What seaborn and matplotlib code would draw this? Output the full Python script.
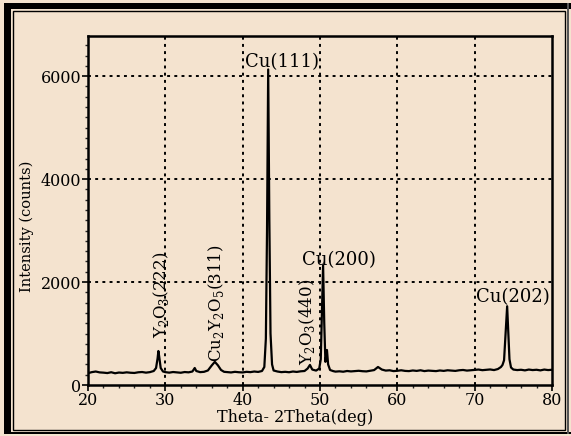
import matplotlib
matplotlib.use("Agg")
import matplotlib.pyplot as plt
from matplotlib.patches import Rectangle
from matplotlib.ticker import MultipleLocator
import pandas as pd
import seaborn as sns

# XRD scan: 2-theta (deg) and intensity (counts)
two_theta = [
    20.0, 20.5, 21.0, 21.5, 22.0, 22.5, 23.0, 23.5, 24.0, 24.5,
    25.0, 25.5, 26.0, 26.5, 27.0, 27.5, 28.0, 28.5, 28.8, 29.0,
    29.1, 29.2, 29.4, 29.7, 30.0, 30.5, 31.0, 31.5, 32.0, 32.5,
    33.0, 33.5, 33.8, 34.0, 34.5, 35.0, 35.5, 36.0, 36.4, 36.8,
    37.2, 37.6, 38.0, 38.5, 39.0, 39.5, 40.0, 40.5, 41.0, 41.5,
    42.0, 42.5, 42.8, 43.0, 43.15, 43.3, 43.45, 43.6, 43.8, 44.0,
    44.5, 45.0, 45.5, 46.0, 46.5, 47.0, 47.5, 48.0, 48.4, 48.7,
    49.0, 49.5, 49.9, 50.1, 50.25, 50.4, 50.55, 50.7, 50.9, 51.05,
    51.3, 51.7, 52.0, 52.5, 53.0, 53.5, 54.0, 54.5, 55.0, 55.5,
    56.0, 56.5, 57.0, 57.5, 58.0, 58.5, 59.0, 59.5, 60.0, 60.5,
    61.0, 61.5, 62.0, 62.5, 63.0, 63.5, 64.0, 64.5, 65.0, 65.5,
    66.0, 66.5, 67.0, 67.5, 68.0, 68.5, 69.0, 69.5, 70.0, 70.5,
    71.0, 71.5, 72.0, 72.5, 73.0, 73.4, 73.6, 73.8, 74.0, 74.2,
    74.35, 74.5, 74.7, 75.0, 75.5, 76.0, 76.5, 77.0, 77.5, 78.0,
    78.5, 79.0, 79.5, 80.0,
]
counts = [
    230, 250, 262, 245, 240, 232, 248, 228, 242, 236,
    246, 238, 234, 247, 252, 240, 250, 272, 330, 520,
    660, 560, 330, 262, 250, 240, 252, 244, 238, 252,
    246, 262, 330, 272, 250, 256, 282, 380, 450, 382,
    292, 256, 250, 244, 256, 248, 244, 256, 250, 262,
    254, 272, 350, 900, 3000, 6130, 3200, 1000, 400, 282,
    262, 250, 256, 248, 262, 254, 266, 272, 320, 390,
    300, 280, 320, 500, 1400, 2330, 1200, 450, 680, 400,
    292, 270, 260, 266, 258, 272, 264, 270, 276, 268,
    264, 276, 290, 350, 300, 280, 286, 270, 276, 286,
    274, 270, 282, 274, 286, 270, 280, 276, 270, 282,
    274, 286, 280, 274, 286, 292, 280, 286, 292, 300,
    288, 296, 302, 290, 310, 350, 390, 480, 1000, 1530,
    1000, 500, 340, 300, 290, 296, 284, 300, 290, 296,
    284, 300, 290, 296,
]

x_ticks = [20, 30, 40, 50, 60, 70, 80]
y_ticks = [0, 2000, 4000, 6000]

# horizontal peak annotations: (text, left x, centre y)
peak_labels = [
    ("Cu(111)", 40.3, 6270),
    ("Cu(200)", 47.7, 2430),
    ("Cu(202)", 70.2, 1710),
]
# vertical phase annotations: (text, centre x, centre y)
phase_labels = [
    (r"Y$_\mathrm{2}$O$_\mathrm{3}$(222)", 29.45, 1750),
    (r"Cu$_\mathrm{2}$Y$_\mathrm{2}$O$_\mathrm{5}$(311)", 36.5, 1590),
    (r"Y$_\mathrm{2}$O$_\mathrm{3}$(440)", 48.3, 1220),
]

scan = pd.DataFrame({"two_theta": two_theta, "counts": counts})

sns.set_style("ticks")
plt.rcParams["font.family"] = ["DejaVu Serif"]
plt.rcParams["mathtext.fontset"] = "custom"
plt.rcParams["mathtext.rm"] = "DejaVu Serif"

BG = "#F4E3CF"
W, H = 571, 436
fig = plt.figure(figsize=(W / 100, H / 100), dpi=100, facecolor=BG)

L, R, T, B = 88, 552, 36, 385
ax = fig.add_axes([L / W, 1 - B / H, (R - L) / W, (B - T) / H])
ax.set_facecolor(BG)

sns.lineplot(data=scan, x="two_theta", y="counts", ax=ax, color="black",
             linewidth=1.6, estimator=None, sort=False)

ax.set_xlim(20, 80)
ax.set_ylim(0, 6780)
ax.set_xticks(x_ticks)
ax.set_yticks(y_ticks)
ax.xaxis.set_minor_locator(MultipleLocator(2))
ax.yaxis.set_minor_locator(MultipleLocator(200))

# dotted grid
for gx in x_ticks[1:-1]:
    ax.axvline(gx, color="black", lw=1.4, ls=(0, (1.5, 2.2)), zorder=1)
for gy in y_ticks[1:]:
    ax.axhline(gy, color="black", lw=1.4, ls=(0, (1.5, 2.2)), zorder=1)

for s in ax.spines.values():
    s.set_color("black")
    s.set_linewidth(1.8)

ax.tick_params(axis="both", which="major", direction="out", length=4, width=1.2,
               labelsize=11.5, colors="black", pad=1)
ax.tick_params(axis="both", which="minor", direction="out", length=2.5, width=1.0)

ax.set_xlabel("Theta- 2Theta(deg)", fontsize=11.5, color="black")
ax.xaxis.set_label_coords((295 - L) / (R - L), (B - 409) / (B - T))
ax.set_ylabel("Intensity (counts)", fontsize=10.5, color="black")
ax.yaxis.set_label_coords((34 - L) / (R - L), (B - 226) / (B - T))

for txt, xx, yy in peak_labels:
    ax.text(xx, yy, txt, fontsize=13, ha="left", va="center", color="black",
            zorder=3)
for txt, xx, yy in phase_labels:
    ax.text(xx, yy, txt, fontsize=12, ha="center", va="center", color="black",
            rotation=90, zorder=3)

# double border around the figure
def px_rect(x0, y0, x1, y1, **kw):
    return Rectangle((x0 / W, 1 - y1 / H), (x1 - x0) / W, (y1 - y0) / H,
                     transform=fig.transFigure, **kw)

fig.add_artist(px_rect(4, 3, 10.5, 434, facecolor="black", edgecolor="none"))
fig.add_artist(px_rect(4, 3, 571, 9.5, facecolor="black", edgecolor="none"))
fig.add_artist(px_rect(4, 431.5, 571, 434, facecolor="black", edgecolor="none"))
fig.add_artist(px_rect(566.5, 3, 569, 434, facecolor="#555555", edgecolor="none"))
fig.add_artist(px_rect(12.5, 11.5, 564.5, 429.5, facecolor="none",
                       edgecolor="black", linewidth=1.0))

fig.savefig("out.png", dpi=100, facecolor=BG)
